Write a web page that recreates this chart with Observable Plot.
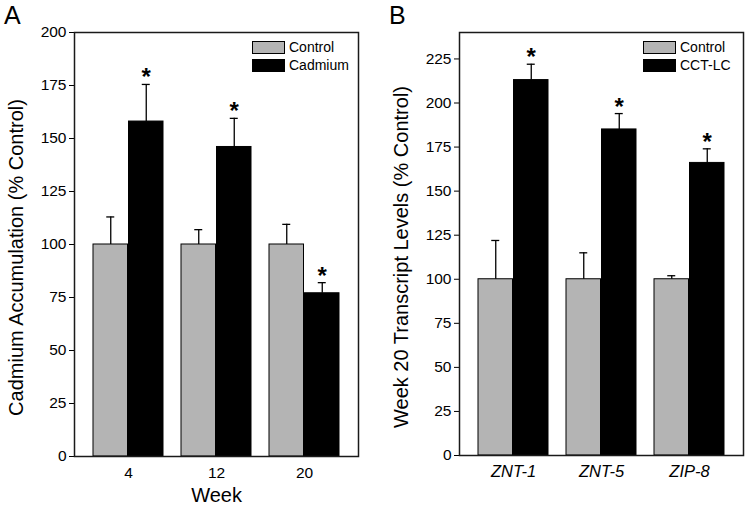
<!DOCTYPE html>
<html>
<head>
<meta charset="utf-8">
<script src="https://cdn.jsdelivr.net/npm/d3@7"></script>
<script src="https://cdn.jsdelivr.net/npm/@observablehq/plot@0.6"></script>
<style>
  body { margin: 0; background: #fff; font-family: "Liberation Sans", Arial, sans-serif; }
  #wrap { position: relative; width: 750px; height: 509px; }
  .panel { position: absolute; top: 0; }
  .plabel { position: absolute; font-size: 25px; line-height: 1; }
  .legend { position: absolute; font-size: 14px; line-height: 18px; }
  .legend .row { display: flex; align-items: center; height: 18px; }
  .legend .sw { width: 31px; height: 11px; border: 1px solid #000; margin-right: 4px; box-sizing: content-box; }
</style>
</head>
<body>
<div id="wrap"></div>
<script>
// Panel A data
const weeksA = ["4", "12", "20"];
const seriesA = ["Control", "Cadmium"];
const controlA = [100, 100, 100];
const controlErrA = [13, 7, 9.5];
const cadmiumA = [158, 146, 77];
const cadmiumErrA = [17.5, 13.5, 5];
const sigA = [true, true, true];

// Panel B data
const genesB = ["ZNT-1", "ZNT-5", "ZIP-8"];
const seriesB = ["Control", "CCT-LC"];
const controlB = [100, 100, 100];
const controlErrB = [22, 15, 2];
const cctB = [213, 185, 166];
const cctErrB = [9, 9, 8];
const sigB = [true, true, true];

const yTicksA = [0, 25, 50, 75, 100, 125, 150, 175, 200];
const yTicksB = [0, 25, 50, 75, 100, 125, 150, 175, 200, 225];

const gray = "#b4b4b4";
const font = "'Liberation Sans', Arial, sans-serif";

function rows(groups, vals, errs, sig) {
  return groups.map((g, i) => ({group: g, value: vals[i], err: errs[i], top: vals[i] + errs[i], sig: sig ? sig[i] : false}));
}

function panel(groups, series, ctrl, ctrlErr, trt, trtErr, sig, opts) {
  const W = 375, H = 509;
  const xOpts = {type: "band", domain: groups, paddingInner: 0.2, paddingOuter: 0.2};
  const bw = Plot.scale({x: {...xOpts, range: [opts.ml, W - opts.mr]}}).bandwidth;
  const half = bw / 2, q = bw / 4, cap = 4.5;
  const cData = rows(groups, ctrl, ctrlErr, null);
  const tData = rows(groups, trt, trtErr, sig);
  const marks = [
    Plot.barY(cData, {x: "group", y: "value", fill: gray, stroke: "#000", strokeWidth: 1, insetRight: half}),
    Plot.barY(tData, {x: "group", y: "value", fill: "#000", stroke: "#000", strokeWidth: 1, insetLeft: half}),
    Plot.ruleX(cData, {x: "group", y1: "value", y2: "top", dx: -q, stroke: "#000", strokeWidth: 1.3}),
    Plot.ruleX(tData, {x: "group", y1: "value", y2: "top", dx: q, stroke: "#000", strokeWidth: 1.3}),
    Plot.tickY(cData, {x: "group", y: "top", insetLeft: q - cap, insetRight: 3 * q - cap, stroke: "#000", strokeWidth: 1.3}),
    Plot.tickY(tData, {x: "group", y: "top", insetLeft: 3 * q - cap, insetRight: q - cap, stroke: "#000", strokeWidth: 1.3}),
    Plot.text(tData.filter(d => d.sig), {x: "group", y: "top", dx: q, text: () => "*", fontSize: 24, fontWeight: "bold", dy: 1, lineAnchor: "bottom", fill: "#000"}),
    Plot.axisY({ticks: opts.yticks, tickSize: 5, tickPadding: 3, label: null}),
    Plot.axisX({anchor: "bottom", tickSize: 0, tickPadding: 10, fontSize: opts.italic ? 16.5 : 15.5, fontStyle: opts.italic ? "italic" : "normal", label: null}),
    Plot.frame({stroke: "#1a1a1a", strokeWidth: 1.5}),
    Plot.text([opts.ylabel], {frameAnchor: "left", rotate: -90, textAnchor: "middle", dx: -58, dy: 13, fontSize: 20, text: d => d, fill: "#000"})
  ];
  if (opts.xlabel) marks.push(Plot.text([opts.xlabel], {frameAnchor: "bottom", dy: 45, fontSize: 20, text: d => d, fill: "#000"}));
  return Plot.plot({
    width: W,
    height: H,
    marginLeft: opts.ml,
    marginRight: opts.mr,
    marginTop: 32,
    marginBottom: opts.mb,
    style: {fontFamily: font, fontSize: "15.5px", background: "transparent", color: "#000"},
    x: {...xOpts, label: null},
    y: {domain: [0, opts.ymax]},
    marks
  });
}

const wrap = document.getElementById("wrap");

const a = panel(weeksA, seriesA, controlA, controlErrA, cadmiumA, cadmiumErrA, sigA,
  {ml: 74, mr: 17, mb: 53, ymax: 200, yticks: yTicksA, ylabel: "Cadmium Accumulation (% Control)", xlabel: "Week", italic: false});
a.classList.add("panel"); a.style.left = "0px";
wrap.appendChild(a);

const b = panel(genesB, seriesB, controlB, controlErrB, cctB, cctErrB, sigB,
  {ml: 84, mr: 7, mb: 54, ymax: 240, yticks: yTicksB, ylabel: "Week 20 Transcript Levels (% Control)", xlabel: null, italic: true});
b.classList.add("panel"); b.style.left = "375px";
wrap.appendChild(b);

function legend(left, top, series) {
  const d = document.createElement("div");
  d.className = "legend";
  d.style.left = left + "px"; d.style.top = top + "px";
  series.forEach((s, i) => {
    const r = document.createElement("div"); r.className = "row";
    const sw = document.createElement("div"); sw.className = "sw";
    sw.style.background = i === 0 ? gray : "#000";
    const t = document.createElement("span"); t.textContent = s;
    r.appendChild(sw); r.appendChild(t); d.appendChild(r);
  });
  wrap.appendChild(d);
}
legend(252, 38, seriesA);
legend(643, 38, seriesB);

function plabel(txt, left, top) {
  const d = document.createElement("div"); d.className = "plabel";
  d.textContent = txt; d.style.left = left + "px"; d.style.top = top + "px";
  wrap.appendChild(d);
}
plabel("A", 4, 3);
plabel("B", 389, 3);
</script>
</body>
</html>
